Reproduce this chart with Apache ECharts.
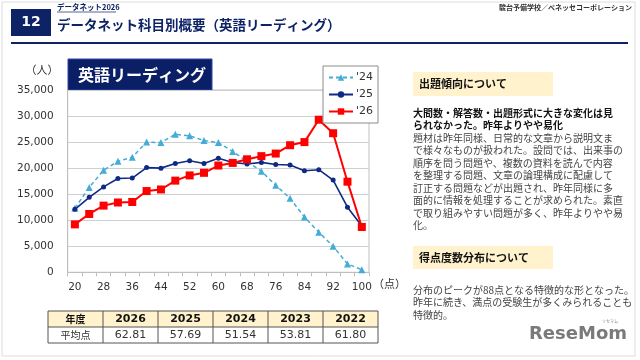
<!DOCTYPE html>
<html><head><meta charset="utf-8">
<script src="https://cdn.jsdelivr.net/npm/echarts@6/dist/echarts.min.js"></script>
<style>html,body{margin:0;padding:0;background:#fff}#c{width:640px;height:360px}</style>
</head><body><div id="c"></div>
<script>
const scores = ['20','24','28','32','36','40','44','48','52','56','60','64','68','72','76','80','84','88','92','96','100'];
const s24 = [12300,16300,19600,21300,22100,25000,24900,26500,26200,25300,24900,23200,21300,19400,16700,14200,10600,7700,5000,1600,500];
const s25 = [12100,14400,16400,18000,18100,20100,20000,20900,21400,20900,21900,21100,20800,21100,20700,20600,19500,19700,17700,12500,8900];
const s26 = [9200,11200,12800,13400,13500,15600,15900,17600,18600,19100,20500,21000,21700,22300,22800,24400,25000,29300,26700,17400,8700];
const seriesNames = ["'24","'25","'26"];
const tableYears = ['2026','2025','2024','2023','2022'];
const tableAvg = ['62.81','57.69','51.54','53.81','61.80'];
const tableHead = '年度';
const tableRowLabel = '平均点';
const headerNo = '12';
const headerSmall = 'データネット2026';
const headerTitle = 'データネット科目別概要（英語リーディング）';
const headerSource = '駿台予備学校／ベネッセコーポレーション';
const chartTitle = '英語リーディング';
const sec1Title = '出題傾向について';
const sec1Bold = ['大問数・解答数・出題形式に大きな変化は見', 'られなかった。昨年よりやや易化'];
const sec1Body = ['題材は昨年同様、日常的な文章から説明文ま','で様々なものが扱われた。設問では、出来事の','順序を問う問題や、複数の資料を読んで内容','を整理する問題、文章の論理構成に配慮して','訂正する問題などが出題され、昨年同様に多','面的に情報を処理することが求められた。素直','で取り組みやすい問題が多く、昨年よりやや易','化。'];
const sec2Title = '得点度数分布について';
const sec2Body = ['分布のピークが88点となる特徴的な形となった。','昨年に続き、満点の受験生が多くみられることも','特徴的。'];

const CJK = '"Noto Sans CJK JP", sans-serif';
const NUM = '"DejaVu Sans", sans-serif';
const navy = '#0d2366';

const g = [];
// card
g.push({type:'rect', shape:{x:2,y:2,width:633,height:354}, style:{fill:'#fff', stroke:'#dcdcdc', lineWidth:1}, z:-10});
// header
g.push({type:'rect', shape:{x:11,y:9,width:40,height:27}, style:{fill:navy}});
g.push({type:'text', x:31, y:22.5, style:{text:headerNo, fill:'#fff', font:'bold 14px '+NUM, align:'center', verticalAlign:'middle'}});
g.push({type:'text', x:57, y:7.5, style:{text:headerSmall, fill:navy, font:'bold 7.5px '+CJK, verticalAlign:'middle'}});
g.push({type:'line', shape:{x1:57,y1:12,x2:116,y2:12}, style:{stroke:navy, lineWidth:0.7}});
g.push({type:'text', x:57, y:25, style:{text:headerTitle, fill:navy, font:'bold 13.5px '+CJK, verticalAlign:'middle'}});
g.push({type:'text', x:632, y:7.5, style:{text:headerSource, fill:'#333', font:'bold 7px '+CJK, align:'right', verticalAlign:'middle'}});
g.push({type:'rect', shape:{x:11,y:42,width:617,height:2}, style:{fill:navy}});
// chart title box
g.push({type:'rect', shape:{x:68,y:59,width:144,height:31}, style:{fill:'#0b1f66', stroke:'#3344aa', lineWidth:1}});
g.push({type:'text', x:78, y:75, style:{text:chartTitle, fill:'#fff', font:'bold 16px '+CJK, verticalAlign:'middle'}});
g.push({type:'text', x:42, y:70, style:{text:'（人）', fill:'#333', font:'11px '+CJK, align:'center', verticalAlign:'middle'}});
g.push({type:'text', x:373, y:284, style:{text:'（点）', fill:'#333', font:'11px '+CJK, verticalAlign:'middle'}});
// right panel
g.push({type:'rect', shape:{x:413,y:72,width:140,height:24}, style:{fill:'#fff2cc'}});
g.push({type:'text', x:419, y:84, style:{text:sec1Title, fill:'#111', font:'bold 11px '+CJK, verticalAlign:'middle'}});
let yy = 113;
sec1Bold.forEach(t=>{g.push({type:'text', x:413, y:yy, style:{text:t, fill:'#111', font:'bold 10px '+CJK, verticalAlign:'middle'}}); yy+=12.5;});
sec1Body.forEach(t=>{g.push({type:'text', x:413, y:yy, style:{text:t, fill:'#444', font:'10px '+CJK, verticalAlign:'middle'}}); yy+=12.5;});
g.push({type:'rect', shape:{x:413,y:246,width:140,height:23}, style:{fill:'#fff2cc'}});
g.push({type:'text', x:419, y:257.5, style:{text:sec2Title, fill:'#111', font:'bold 11px '+CJK, verticalAlign:'middle'}});
yy = 290;
sec2Body.forEach(t=>{g.push({type:'text', x:413, y:yy, style:{text:t, fill:'#444', font:'10px '+CJK, verticalAlign:'middle'}}); yy+=12.5;});
// table
const tx0 = 48, cw = 55, ty0 = 311, rh = 16;
const cols = [tableHead].concat(tableYears);
const vals = [tableRowLabel].concat(tableAvg);
g.push({type:'rect', shape:{x:tx0,y:ty0,width:cw*cols.length,height:rh}, style:{fill:'#fff2cc'}});
cols.forEach((c,i)=>{
  const cx = tx0 + cw*i + cw/2;
  g.push({type:'text', x:cx, y:ty0+rh/2, style:{text:c, fill:'#111', font:(i===0?'bold 10px '+CJK:'bold 11px '+NUM), align:'center', verticalAlign:'middle'}});
  g.push({type:'text', x:cx, y:ty0+rh*1.5, style:{text:vals[i], fill:'#333', font:(i===0?'10px '+CJK:'11px '+NUM), align:'center', verticalAlign:'middle'}});
});
for (let i=0;i<=cols.length;i++){
  g.push({type:'line', shape:{x1:tx0+cw*i,y1:ty0,x2:tx0+cw*i,y2:ty0+rh*2}, style:{stroke:'#555', lineWidth:1}});
}
for (let j=0;j<=2;j++){
  g.push({type:'line', shape:{x1:tx0,y1:ty0+rh*j,x2:tx0+cw*cols.length,y2:ty0+rh*j}, style:{stroke:'#555', lineWidth:1}});
}
// logo
g.push({type:'text', x:578, y:334, style:{text:'ReseMom', fill:'#7a7a7a', font:'bold 18px '+NUM, align:'center', verticalAlign:'middle'}});
g.push({type:'text', x:610, y:321, style:{text:'リセマム', fill:'#888', font:'4px '+CJK, align:'center', verticalAlign:'middle'}});

const chart = echarts.init(document.getElementById('c'), null, {renderer:'canvas'});
chart.setOption({
  animation:false,
  backgroundColor:'#fff',
  grid:{left:67.7, right:271, top:90, bottom:87.7, show:true, borderColor:'#bfbfbf', borderWidth:1},
  legend:{
    data:seriesNames, orient:'vertical', left:323, top:66, padding:[6,5,6,5], itemGap:6,
    itemWidth:24, itemHeight:8, borderColor:'#8c8c8c', borderWidth:1, backgroundColor:'#fff',
    textStyle:{fontFamily:'"DejaVu Sans", sans-serif', fontSize:11, color:'#333', padding:[0,0,0,-2]}
  },
  xAxis:{
    type:'category', data:scores, boundaryGap:true,
    axisLine:{lineStyle:{color:'#bfbfbf'}},
    axisTick:{show:true, interval:0, length:4, lineStyle:{color:'#bfbfbf'}},
    axisLabel:{interval:1, margin:9, fontFamily:'"DejaVu Sans", sans-serif', fontSize:10.5, color:'#333'},
    splitLine:{show:false}
  },
  yAxis:{
    type:'value', min:0, max:35000, interval:5000,
    axisLine:{show:true, lineStyle:{color:'#bfbfbf'}},
    axisTick:{show:false},
    axisLabel:{margin:14, fontFamily:'"DejaVu Sans", sans-serif', fontSize:10.5, color:'#333',
      formatter:v=>v.toLocaleString('en-US')},
    splitLine:{lineStyle:{color:'#cfcfcf', width:1}}
  },
  series:[
    {name:seriesNames[0], type:'line', data:s24, symbol:'triangle', symbolSize:7,
     itemStyle:{color:'#45acd8'}, lineStyle:{color:'#45acd8', width:1.5, type:[4,3]}},
    {name:seriesNames[1], type:'line', data:s25, symbol:'circle', symbolSize:5,
     itemStyle:{color:'#0f2a85'}, lineStyle:{color:'#0f2a85', width:1.6}},
    {name:seriesNames[2], type:'line', data:s26, symbol:'rect', symbolSize:8,
     itemStyle:{color:'#ff0000'}, lineStyle:{color:'#ff0000', width:2}}
  ],
  graphic:g
});
</script></body></html>
